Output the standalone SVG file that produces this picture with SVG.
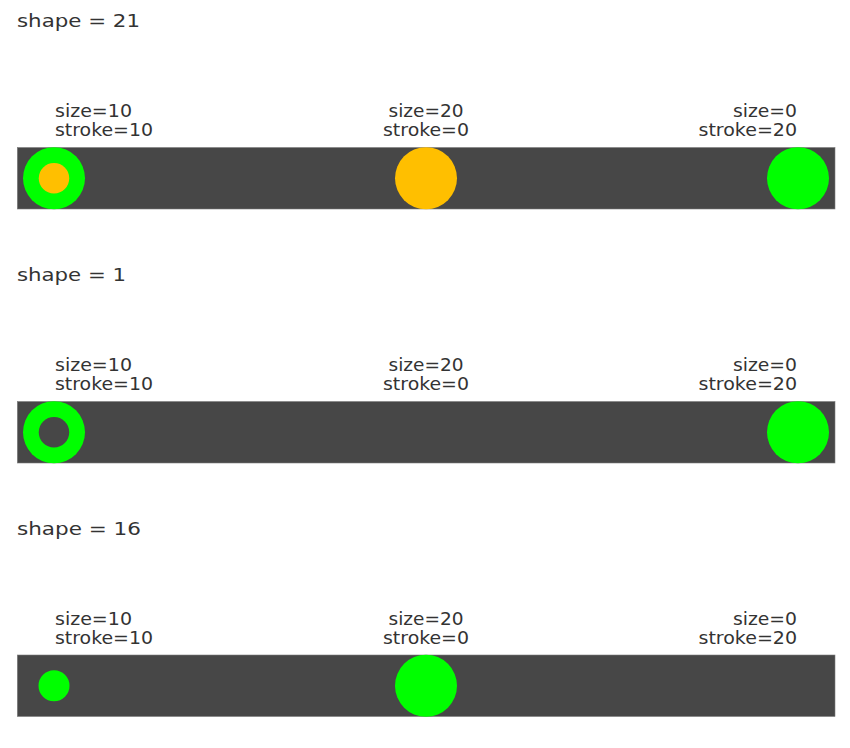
<svg xmlns="http://www.w3.org/2000/svg" width="850" height="748" viewBox="0 0 850 748">
<style>
text{font-family:"DejaVu Sans","Liberation Sans",sans-serif;font-size:18.5px;fill:#333333}
.bar{fill:#474747;stroke:#7d7d7d;stroke-width:0.6}
.g{fill:#00ff00}
.o{fill:#ffbf00}
.d{fill:#474747}
</style>
<rect width="850" height="748" fill="#ffffff"/>
<g id="section-21">
<text x="17" y="27" textLength="123" lengthAdjust="spacingAndGlyphs">shape = 21</text>
<text x="55" y="117" textLength="77" lengthAdjust="spacingAndGlyphs">size=10</text>
<text x="55" y="136" textLength="98" lengthAdjust="spacingAndGlyphs">stroke=10</text>
<text x="426" y="117" text-anchor="middle" textLength="75" lengthAdjust="spacingAndGlyphs">size=20</text>
<text x="426" y="136" text-anchor="middle" textLength="86" lengthAdjust="spacingAndGlyphs">stroke=0</text>
<text x="797" y="117" text-anchor="end" textLength="64" lengthAdjust="spacingAndGlyphs">size=0</text>
<text x="797" y="136" text-anchor="end" textLength="98.5" lengthAdjust="spacingAndGlyphs">stroke=20</text>
<rect class="bar" x="17.3" y="147.5" width="817.7" height="61.5"/>
<circle class="g" cx="54" cy="178.25" r="31"/>
<circle class="o" cx="54" cy="178.25" r="15.25"/>
<circle class="o" cx="426" cy="178.25" r="31"/>
<circle class="g" cx="798" cy="178.25" r="31"/>
</g>
<g id="section-1" transform="translate(0,254)">
<text x="17" y="27" textLength="109" lengthAdjust="spacingAndGlyphs">shape = 1</text>
<text x="55" y="117" textLength="77" lengthAdjust="spacingAndGlyphs">size=10</text>
<text x="55" y="136" textLength="98" lengthAdjust="spacingAndGlyphs">stroke=10</text>
<text x="426" y="117" text-anchor="middle" textLength="75" lengthAdjust="spacingAndGlyphs">size=20</text>
<text x="426" y="136" text-anchor="middle" textLength="86" lengthAdjust="spacingAndGlyphs">stroke=0</text>
<text x="797" y="117" text-anchor="end" textLength="64" lengthAdjust="spacingAndGlyphs">size=0</text>
<text x="797" y="136" text-anchor="end" textLength="98.5" lengthAdjust="spacingAndGlyphs">stroke=20</text>
<rect class="bar" x="17.3" y="147.5" width="817.7" height="61.5"/>
<circle class="g" cx="54" cy="178.25" r="31"/>
<circle class="d" cx="54" cy="178.25" r="15.25"/>
<circle class="g" cx="798" cy="178.25" r="31"/>
</g>
<g id="section-16" transform="translate(0,507.5)">
<text x="17" y="27" textLength="124" lengthAdjust="spacingAndGlyphs">shape = 16</text>
<text x="55" y="117" textLength="77" lengthAdjust="spacingAndGlyphs">size=10</text>
<text x="55" y="136" textLength="98" lengthAdjust="spacingAndGlyphs">stroke=10</text>
<text x="426" y="117" text-anchor="middle" textLength="75" lengthAdjust="spacingAndGlyphs">size=20</text>
<text x="426" y="136" text-anchor="middle" textLength="86" lengthAdjust="spacingAndGlyphs">stroke=0</text>
<text x="797" y="117" text-anchor="end" textLength="64" lengthAdjust="spacingAndGlyphs">size=0</text>
<text x="797" y="136" text-anchor="end" textLength="98.5" lengthAdjust="spacingAndGlyphs">stroke=20</text>
<rect class="bar" x="17.3" y="147.5" width="817.7" height="61.5"/>
<circle class="g" cx="54" cy="178.25" r="15.5"/>
<circle class="g" cx="426" cy="178.25" r="31"/>
</g>
</svg>
